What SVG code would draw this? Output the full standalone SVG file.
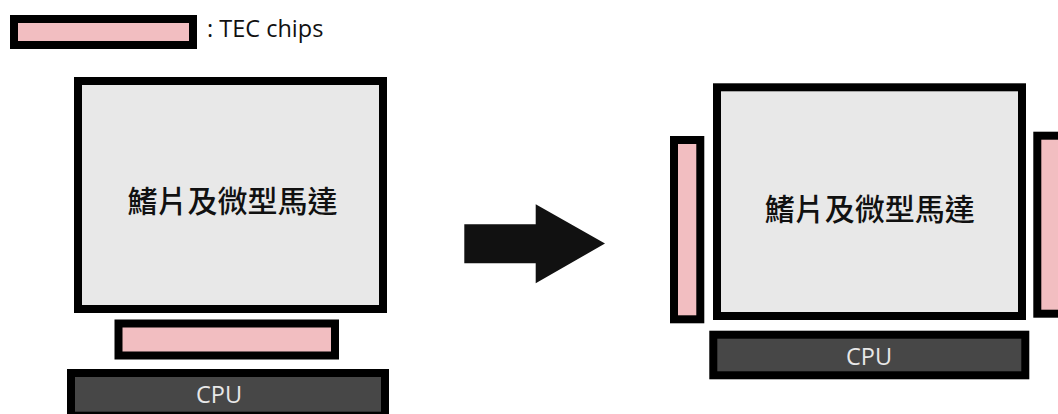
<svg xmlns="http://www.w3.org/2000/svg" width="1058" height="414" viewBox="0 0 1058 414">
<style>
.tec{fill:#f2bec1;stroke:#000;stroke-width:8}
.box{fill:#e8e8e8;stroke:#000;stroke-width:8}
.cpu{fill:#474747;stroke:#000;stroke-width:8}
.lbl{font-family:"Open Sans","Noto Sans",sans-serif;font-size:23.5px}
.cpuT{fill:#e8e8e8;text-anchor:middle}
.zh{font-family:"Noto Sans CJK TC","Noto Sans CJK SC",sans-serif;font-size:30px;font-weight:500;fill:#111;text-anchor:middle}
</style>
<g id="legend">
<rect class="tec" x="14" y="19" width="179" height="26"/>
<text class="lbl" x="207" y="36.7" fill="#111">: TEC chips</text>
</g>
<g id="left-heatsink">
<rect class="box" x="78" y="81" width="305" height="228"/>
<text class="zh" x="232.5" y="211.5">鰭片及微型馬達</text>
</g>
<g id="left-tec">
<rect class="tec" x="118.5" y="323.5" width="216.5" height="32"/>
</g>
<g id="left-cpu">
<rect class="cpu" x="71" y="373" width="314" height="42.7"/>
<text class="lbl cpuT" x="219" y="402.7">CPU</text>
</g>
<g id="connectors">
<polygon points="464.3,224.3 535.7,224.3 535.7,204.3 605,243.5 535.7,283.3 535.7,263.3 464.3,263.3" fill="#111"/>
</g>
<g id="right-heatsink">
<rect class="box" x="717" y="87.3" width="305" height="228.7"/>
<text class="zh" x="869.7" y="219.8">鰭片及微型馬達</text>
</g>
<g id="right-tec-left">
<rect class="tec" x="674" y="140" width="26.3" height="179.3"/>
</g>
<g id="right-tec-right">
<rect class="tec" x="1037.3" y="135.7" width="26.3" height="178"/>
</g>
<g id="right-cpu">
<rect class="cpu" x="713.3" y="334.7" width="312" height="40.6"/>
<text class="lbl cpuT" x="869" y="365">CPU</text>
</g>
</svg>
